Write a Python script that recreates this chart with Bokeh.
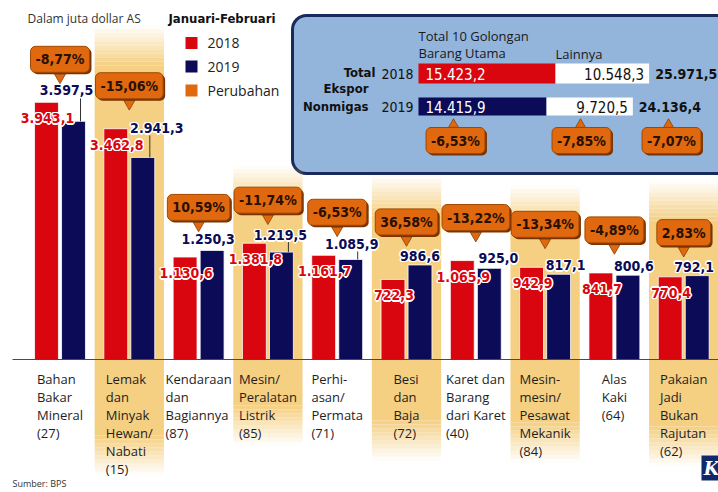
import numpy as np
from bokeh.plotting import figure
from bokeh.models import Range1d, BoxAnnotation
from bokeh.core.properties import value
from bokeh.embed import file_html
from bokeh.resources import INLINE

# ---------------- data ----------------
CATEGORIES = [
    "Bahan\nBakar\nMineral\n(27)",
    "Lemak\ndan\nMinyak\nHewan/\nNabati\n(15)",
    "Kendaraan\ndan\nBagiannya\n(87)",
    "Mesin/\nPeralatan\nListrik\n(85)",
    "Perhi-\nasan/\nPermata\n(71)",
    "Besi\ndan\nBaja\n(72)",
    "Karet dan\nBarang\ndari Karet\n(40)",
    "Mesin-\nmesin/\nPesawat\nMekanik\n(84)",
    "Alas\nKaki\n(64)",
    "Pakaian\nJadi\nBukan\nRajutan\n(62)",
]
EXPORT_2018 = [3943.1, 3462.8, 1130.6, 1381.8, 1161.7, 722.3, 1065.9, 942.9, 841.7, 770.4]
EXPORT_2019 = [3597.5, 2941.3, 1250.3, 1219.5, 1085.9, 986.6, 925.0, 817.1, 800.6, 792.1]
CHANGE = ["-8,77%", "-15,06%", "10,59%", "-11,74%", "-6,53%",
          "36,58%", "-13,22%", "-13,34%", "-4,89%", "2,83%"]

YEARS = ["2018", "2019"]
TOTAL_MAIN = [15423.2, 14415.9]
TOTAL_OTHER = [10548.3, 9720.5]
TOTAL_ALL = [25971.5, 24136.4]
TOTAL_CHANGE = ["-6,53%", "-7,85%", "-7,07%"]


def fmt(v):
    s = f"{v:,.1f}"
    return s.replace(",", "X").replace(".", ",").replace("X", ".")


# ---------------- layout constants ----------------
W, H = 718, 492
PX_L, PX_R, PX_T, PX_B = 0, 718, 0, 492
CAT0_PX, CAT_PITCH = 59.5, 69.3
BASE_PX, PX_PER_UNIT, BASE = 359, 0.055, -733
INSET_ZERO_PX, INSET_PX_PER_UNIT = 418, 0.00888

RED = "#D9060F"
NAVY = "#0B0B57"
ORANGE = "#E0680F"
BAND = "#F5CF82"
TXT = "#1E1E1E"

CF = value("DejaVu Sans Condensed")
SF = value("Open Sans")

idx = np.arange(len(CATEGORIES), dtype=float)
v18 = np.array(EXPORT_2018)
v19 = np.array(EXPORT_2019)
vmax = np.maximum(v18, v19)

x_range = Range1d(-(CAT0_PX - PX_L) / CAT_PITCH, (PX_R - CAT0_PX) / CAT_PITCH)
y_range = Range1d(BASE - (PX_B - BASE_PX) / PX_PER_UNIT, BASE + (BASE_PX - PX_T) / PX_PER_UNIT)

p = figure(width=W, height=H, x_range=x_range, y_range=y_range,
           output_backend="svg", toolbar_location=None,
           x_axis_location=None, y_axis_location=None, min_border=0,
           outline_line_color=None, background_fill_color="white",
           border_fill_color="white")
p.grid.visible = False
p.extra_x_ranges = {
    "px": Range1d(PX_L, PX_R),
    "inset": Range1d(-(INSET_ZERO_PX - PX_L) / INSET_PX_PER_UNIT,
                     (PX_R - INSET_ZERO_PX) / INSET_PX_PER_UNIT),
}
p.extra_y_ranges = {"px": Range1d(PX_B, PX_T)}

# ---------------- highlight bands ----------------
BAND_IDX = [1, 3, 5, 7, 9]
BAND_TOP = [25, 165, 175, 185, 180]
BAND_BOTTOM = [475, 445, 460, 462, 466]
FADE, STEPS = 40, 10
ql, qr, qt, qb, qa = [], [], [], [], []
for i, t, b in zip(BAND_IDX, BAND_TOP, BAND_BOTTOM):
    ql.append(i - 0.5); qr.append(i + 0.5); qt.append(t + FADE); qb.append(b - FADE); qa.append(1.0)
    step = FADE / STEPS
    for k in range(STEPS):
        a = (k + 0.5) / STEPS
        ql += [i - 0.5, i - 0.5]; qr += [i + 0.5, i + 0.5]
        qt += [t + k * step, b - FADE + (STEPS - 1 - k) * step]
        qb += [t + (k + 1) * step, b - FADE + (STEPS - k) * step]
        qa += [a, a]
p.quad(left=ql, right=qr, top=qt, bottom=qb, y_range_name="px",
       fill_color=BAND, fill_alpha=qa, line_color=None)

# ---------------- bars ----------------
DODGE, BAR_W = 0.195, 0.345
p.vbar(x=idx - DODGE, width=BAR_W, bottom=BASE, top=v18,
       fill_color=RED, line_color="white", line_width=0.8)
p.vbar(x=idx + DODGE, width=BAR_W, bottom=BASE, top=v19,
       fill_color=NAVY, line_color="white", line_width=0.8)
p.segment(x0=[12], x1=[PX_R], y0=[BASE_PX], y1=[BASE_PX],
          x_range_name="px", y_range_name="px", line_color="#4a4a4a", line_width=1.2)

HALO = [(-1.5, 0), (1.5, 0), (0, -1.5), (0, 1.5), (-1, -1), (1, 1), (-1, 1), (1, -1)]


def halo_text(x, y, text, color, size, bold=True, halo="white", **kw):
    style = "bold" if bold else "normal"
    for dx, dy in HALO:
        p.text(x=x, y=y, text=text, x_offset=dx, y_offset=dy, text_color=halo,
               text_font=CF, text_font_size=value(size), text_font_style=style,
               text_align="center", text_baseline="middle", **kw)
    p.text(x=x, y=y, text=text, text_color=color,
           text_font=CF, text_font_size=value(size), text_font_style=style,
           text_align="center", text_baseline="middle", **kw)


# value labels
BLUE_LIFT = [31, 29, 11, 17, 15, 9, 10, 9, 9, 9]
BLUE_DX = [-7, 14, -4, -1, 1, 0, 9, 7, 6, -3]
lift = np.array(BLUE_LIFT, dtype=float)
lead_x = idx + DODGE + 7 / CAT_PITCH
mask = lift > 12
p.segment(x0=lead_x[mask], x1=lead_x[mask], y0=v19[mask],
          y1=v19[mask] + (lift[mask] - 7) / PX_PER_UNIT, line_color="#333333", line_width=1)

halo_text(idx - DODGE + 1 / CAT_PITCH, v18 - 16 / PX_PER_UNIT,
          [fmt(v) for v in EXPORT_2018], RED, "14px")
halo_text(idx + DODGE + np.array(BLUE_DX) / CAT_PITCH, v19 + lift / PX_PER_UNIT,
          [fmt(v) for v in EXPORT_2019], NAVY, "14px")

# change callouts
p.scatter(x=idx, y=vmax + 25 / PX_PER_UNIT, marker="inverted_triangle", size=11,
          fill_color=ORANGE, line_color="#8A4000", line_width=0.8)
callout_kw = dict(text_font=CF, text_font_size=value("14px"), text_font_style="bold",
                  text_align="center", text_baseline="middle", padding=5, border_radius=5)
p.text(x=idx, y=vmax + 43 / PX_PER_UNIT, text=CHANGE, x_offset=2, y_offset=2,
       text_color="#7A3300", background_fill_color="#7A3300", **callout_kw)
p.text(x=idx, y=vmax + 43 / PX_PER_UNIT, text=CHANGE, text_color="#2A1000",
       background_fill_color=ORANGE, border_line_color="#A04800", border_line_width=1,
       **callout_kw)

# category labels
p.text(x=idx, y=[369] * len(idx), y_range_name="px", text=CATEGORIES,
       anchor="top_center", text_align="left", text_baseline="top",
       text_font=SF, text_font_size=value("13px"), text_color=TXT, text_line_height=1.0)

# ---------------- header & legend ----------------
p.text(x=[27], y=[18], text=["Dalam juta dollar AS"], x_range_name="px", y_range_name="px",
       text_font=SF, text_font_size=value("12px"), text_color="#333333", text_baseline="middle")
p.text(x=[168], y=[18], text=["Januari-Februari"], x_range_name="px", y_range_name="px",
       text_font=CF, text_font_size=value("13px"), text_font_style="bold",
       text_color="#111111", text_baseline="middle")
LEGEND_LABELS = ["2018", "2019", "Perubahan"]
LEGEND_COLORS = [RED, NAVY, ORANGE]
LEGEND_Y = [42.5, 66, 90]
p.scatter(x=[191] * 3, y=LEGEND_Y, marker="square", size=12, fill_color=LEGEND_COLORS,
          line_color=None, x_range_name="px", y_range_name="px")
p.text(x=[207] * 3, y=LEGEND_Y, text=LEGEND_LABELS, x_range_name="px", y_range_name="px",
       text_font=SF, text_font_size=value("14px"), text_color="#222222", text_baseline="middle")

# ---------------- inset box ----------------
p.add_layout(BoxAnnotation(left=292, right=770, top=15, bottom=173,
                           x_range_name="px", y_range_name="px",
                           fill_color="#93B4DB", fill_alpha=1.0,
                           line_color="#1B2A5C", line_width=3, line_alpha=1.0,
                           border_radius=14, level="underlay"))

INSET_ROW_Y = [73, 106]
INSET_ROW_H = [20, 18]
p.hbar(y=INSET_ROW_Y, height=INSET_ROW_H, left=0, right=TOTAL_MAIN,
       x_range_name="inset", y_range_name="px", fill_color=[RED, NAVY], line_color=None)
p.hbar(y=INSET_ROW_Y, height=INSET_ROW_H, left=TOTAL_MAIN,
       right=list(np.array(TOTAL_MAIN) + np.array(TOTAL_OTHER)),
       x_range_name="inset", y_range_name="px", fill_color="white", line_color=None)
p.text(x=[0, 0], y=INSET_ROW_Y, text=[fmt(v) for v in TOTAL_MAIN], x_offset=7,
       x_range_name="inset", y_range_name="px", text_font=CF, text_font_size=value("15px"),
       text_color="white", text_baseline="middle")
p.text(x=list(np.array(TOTAL_MAIN) + np.array(TOTAL_OTHER)), y=INSET_ROW_Y,
       text=[fmt(v) for v in TOTAL_OTHER], x_offset=-5, text_align="right",
       x_range_name="inset", y_range_name="px", text_font=CF, text_font_size=value("15px"),
       text_color="#111111", text_baseline="middle")
p.text(x=TOTAL_ALL, y=INSET_ROW_Y, text=[fmt(v) for v in TOTAL_ALL], x_offset=6,
       x_range_name="inset", y_range_name="px", text_font=CF, text_font_size=value("14px"),
       text_font_style="bold", text_color="#111111", text_baseline="middle")
p.text(x=[381, 381], y=INSET_ROW_Y, text=YEARS, x_range_name="px", y_range_name="px",
       text_font=CF, text_font_size=value("14px"), text_color="#111111", text_baseline="middle")
p.text(x=[375, 368, 368], y=[72, 88, 106], text=["Total", "Ekspor", "Nonmigas"],
       x_range_name="px", y_range_name="px", text_align="right", text_baseline="middle",
       text_font=CF, text_font_size=value("13px"), text_font_style="bold", text_color="#111111")
p.text(x=[418, 418, 555], y=[35, 52, 53], text=["Total 10 Golongan", "Barang Utama", "Lainnya"],
       x_range_name="px", y_range_name="px", text_baseline="middle",
       text_font=SF, text_font_size=value("13px"), text_color="#1a1a1a")

INSET_CALLOUT_X = [455, 581, 671]
p.scatter(x=[453, 580, 668], y=[124, 124, 124], marker="triangle", size=10,
          fill_color=ORANGE, line_color="#8A4000", line_width=0.8,
          x_range_name="px", y_range_name="px")
p.text(x=INSET_CALLOUT_X, y=[140] * 3, text=TOTAL_CHANGE, x_offset=2, y_offset=2,
       x_range_name="px", y_range_name="px", text_color="#7A3300",
       background_fill_color="#7A3300", **callout_kw)
p.text(x=INSET_CALLOUT_X, y=[140] * 3, text=TOTAL_CHANGE, x_range_name="px", y_range_name="px",
       text_color="#2A1000", background_fill_color=ORANGE, border_line_color="#A04800",
       border_line_width=1, **callout_kw)

# ---------------- footer ----------------
p.text(x=[12], y=[483], text=["Sumber: BPS"], x_range_name="px", y_range_name="px",
       text_font=SF, text_font_size=value("9px"), text_color="#333333", text_baseline="middle")
p.quad(left=[701], right=[730], top=[455], bottom=[480], x_range_name="px", y_range_name="px",
       fill_color="#0E2A6B", line_color=None)
p.text(x=[711], y=[468], text=["K"], x_range_name="px", y_range_name="px",
       text_font=value("DejaVu Serif"), text_font_style="bold italic",
       text_font_size=value("18px"), text_color="white", text_align="center",
       text_baseline="middle")

open("out.html", "w").write(file_html(p, INLINE))
